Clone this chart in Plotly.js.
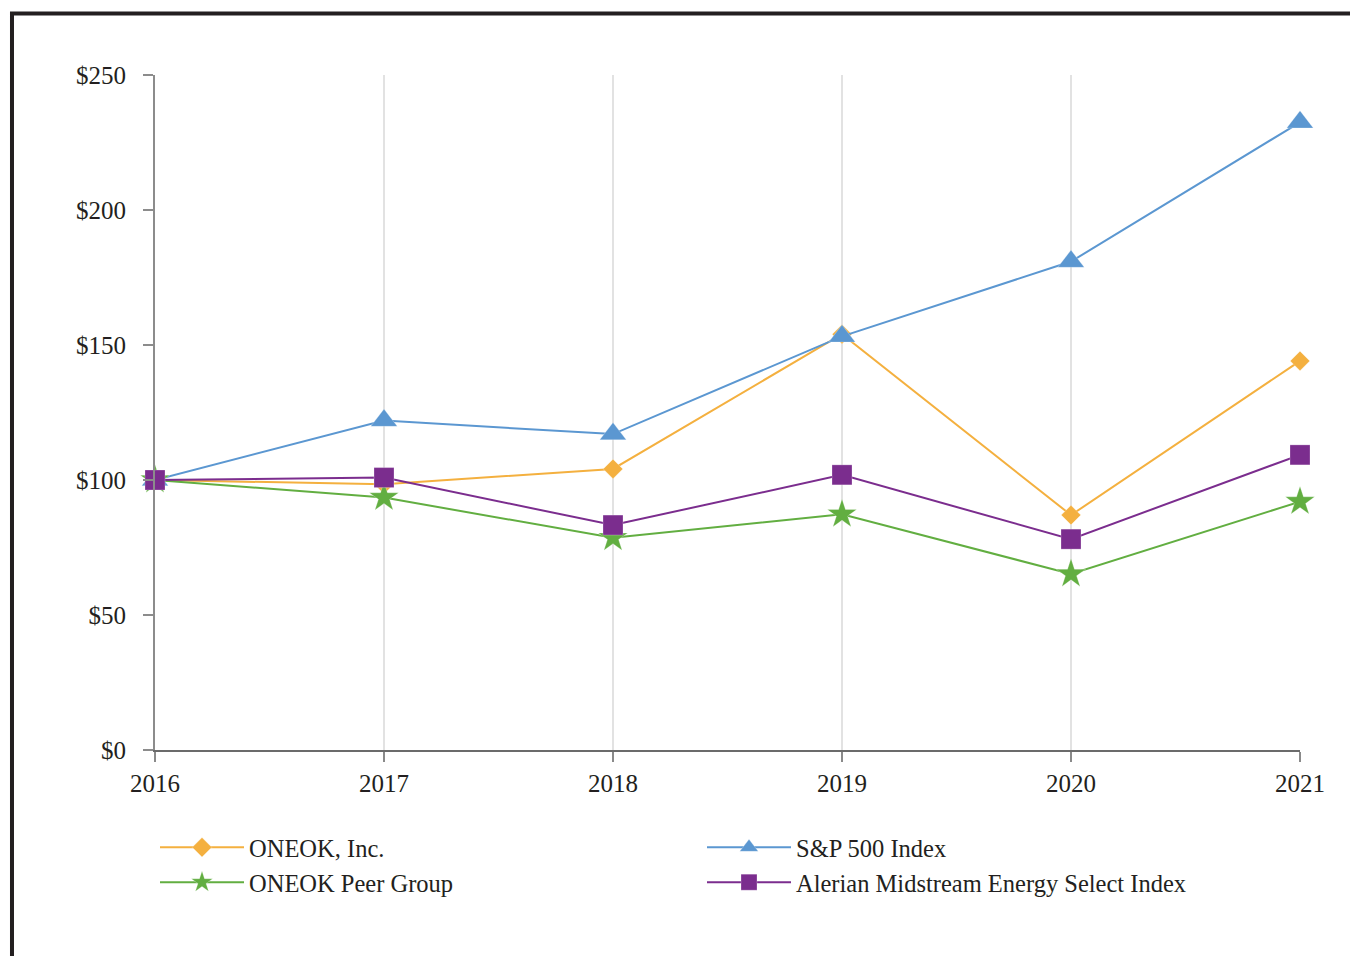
<!DOCTYPE html>
<html>
<head>
<meta charset="utf-8">
<script src="https://cdn.plot.ly/plotly-3.0.1.min.js"></script>
<style>html,body{margin:0;padding:0;background:#fff;}#chart{width:1350px;height:956px;}</style>
</head>
<body>
<div id="chart"></div>
<script>
const years = [2016, 2017, 2018, 2019, 2020, 2021];
const oneok = [100, 98.4, 104.1, 154.0, 87.0, 144.1];
const sp500 = [100, 122.0, 117.0, 153.2, 180.9, 232.5];
const peerGroup = [100, 93.5, 78.6, 87.3, 65.2, 92.0];
const alerian = [100, 100.9, 83.3, 101.9, 78.1, 109.3];
const yTickVals = [0, 50, 100, 150, 200, 250];
const yTickText = ['$0', '$50', '$100', '$150', '$200', '$250'];

const FONT = 'Liberation Serif, Times New Roman, serif';

function tr(name, y, color, symbol, size, rank) {
  return {
    x: years, y: y, name: name, type: 'scatter', mode: 'lines+markers',
    line: {color: color, width: 2},
    marker: {color: color, symbol: symbol, size: size, line: {color: 'rgba(255,255,255,0.5)', width: 0.5}},
    cliponaxis: false, legendrank: rank
  };
}

const data = [
  tr('ONEOK, Inc.', oneok, '#F4B03F', 'diamond', 15, 1),
  tr('S&amp;P 500 Index', sp500, '#5B97D1', 'triangle-up', 23, 2),
  tr('ONEOK Peer Group', peerGroup, '#62AE41', 'star', 22, 3),
  tr('Alerian Midstream Energy Select Index', alerian, '#7B2D8E', 'square', 20, 4)
];

const layout = {
  width: 1350, height: 956,
  margin: {l: 155, r: 50, t: 75, b: 206, autoexpand: false},
  paper_bgcolor: '#ffffff', plot_bgcolor: '#ffffff',
  font: {family: FONT, size: 25, color: '#231f20'},
  showlegend: true,
  legend: {
    orientation: 'h', x: 0, xanchor: 'left', y: -0.111, yanchor: 'top',
    entrywidth: 448, entrywidthmode: 'pixels', traceorder: 'normal',
    font: {family: FONT, size: 24.5, color: '#231f20'},
    bgcolor: 'rgba(0,0,0,0)', tracegroupgap: 0, itemwidth: 84
  },
  xaxis: {
    range: [2016, 2021], tickvals: years, ticktext: years.map(String),
    showgrid: true, gridcolor: '#e2e2e2', gridwidth: 2,
    showline: true, linecolor: '#6b6b6b', linewidth: 2,
    ticks: 'outside', ticklen: 10, tickwidth: 2, tickcolor: '#8a8a8a',
    ticklabelstandoff: 0, zeroline: false, fixedrange: true,
    tickfont: {family: FONT, size: 25, color: '#231f20'}
  },
  yaxis: {
    range: [0, 250], tickvals: yTickVals, ticktext: yTickText,
    showgrid: false, showline: true, linecolor: '#8c8c8c', linewidth: 2,
    ticks: 'outside', ticklen: 10, tickwidth: 2, tickcolor: '#8c8c8c',
    ticklabelstandoff: 12, zeroline: false, fixedrange: true,
    tickfont: {family: FONT, size: 25, color: '#231f20'}
  },
  shapes: [{
    type: 'rect', xref: 'paper', yref: 'paper',
    x0: -0.1249, x1: 1.5, y0: -0.6, y1: 1.0911,
    line: {color: '#231f20', width: 4}, fillcolor: 'rgba(0,0,0,0)', layer: 'below'
  }]
};

Plotly.newPlot('chart', data, layout, {staticPlot: true, displayModeBar: false});
</script>
</body>
</html>
